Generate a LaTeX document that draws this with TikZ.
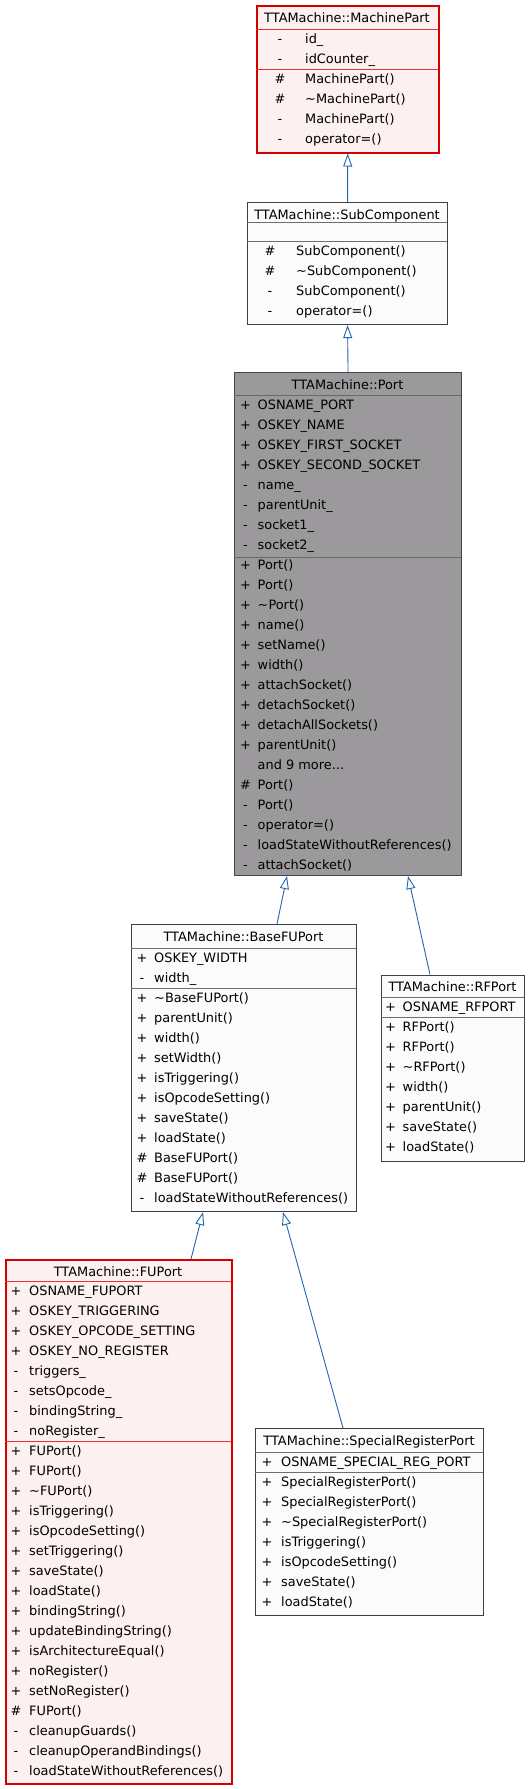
\documentclass[tikz,border=0pt]{standalone}
\usepackage{fontspec}
\setmainfont{DejaVu Sans}
\usepackage{xcolor}
\usetikzlibrary{arrows.meta}

\definecolor{partfill}{RGB}{252,240,240}
\definecolor{partline}{RGB}{210,0,0}
\definecolor{partsep}{RGB}{235,50,50}
\definecolor{plainfill}{RGB}{250,251,250}
\definecolor{plainline}{RGB}{64,64,64}
\definecolor{plainsep}{RGB}{110,110,110}
\definecolor{portfill}{RGB}{155,153,156}
\definecolor{portline}{RGB}{70,70,70}
\definecolor{portsep}{RGB}{105,105,105}
\definecolor{edgeblue}{RGB}{35,100,172}
\newcommand{\moredots}{...}

\begin{document}
\begin{tikzpicture}[x=1pt,y=-1pt,
  plaincls/.style={draw=plainline,fill=plainfill,line width=1.1pt,anchor=north west,inner sep=0pt},
  partcls/.style={draw=partline,fill=partfill,line width=1.5pt,anchor=north west,inner sep=0pt},
  portcls/.style={draw=portline,fill=portfill,line width=1.1pt,anchor=north west,inner sep=0pt},
  txt/.style={font=\fontsize{12.9}{15}\selectfont,inner sep=0pt},
  title/.style={txt,anchor=base},
  vis/.style={txt,anchor=base},
  member/.style={txt,anchor=base west},
  inherit/.style={edgeblue,line width=0.9pt,-{Triangle[length=13pt,width=9pt,fill=white]}}]
  \useasboundingbox (0,0) rectangle (530,1789);
  % MachinePart
  \node[partcls,minimum width=182pt,minimum height=147pt] (machinepart) at (256,5) {};
  \draw[partsep] (256,29) -- (438,29);
  \draw[partsep] (256,69) -- (438,69);
  \node[title] (mp-title) at (347,22.6) {TTAMachine::MachinePart};
  \foreach \vis/\mem [count=\i from 0] in {-/id\_, -/idCounter\_, \#/MachinePart(), \#/\textasciitilde MachinePart(), -/MachinePart(), -/operator=()} {
    \node[vis] (mp-v\i) at (280,43.6+20*\i) {\vis};
    \node[member] (mp-m\i) at (305,43.6+20*\i) {\mem};
  }
  % SubComponent
  \node[plaincls,minimum width=200pt,minimum height=122pt] (subcomponent) at (247,202) {};
  \draw[plainsep] (247,222) -- (447,222);
  \draw[plainsep] (247,241) -- (447,241);
  \node[title] (sc-title) at (347,219.6) {TTAMachine::SubComponent};
  \foreach \vis/\mem [count=\i from 0] in {\#/SubComponent(), \#/\textasciitilde SubComponent(), -/SubComponent(), -/operator=()} {
    \node[vis] (sc-v\i) at (270,255.6+20*\i) {\vis};
    \node[member] (sc-m\i) at (296,255.6+20*\i) {\mem};
  }
  % Port
  \node[portcls,minimum width=227pt,minimum height=503pt] (port) at (234,372) {};
  \draw[portsep] (234,395) -- (461,395);
  \draw[portsep] (234,557) -- (461,557);
  \node[title] (pt-title) at (347.5,389.3) {TTAMachine::Port};
  \foreach \vis/\mem [count=\i from 0] in {+/OSNAME\_PORT, +/OSKEY\_NAME, +/OSKEY\_FIRST\_SOCKET, +/OSKEY\_SECOND\_SOCKET, -/name\_, -/parentUnit\_, -/socket1\_, -/socket2\_,
      +/Port(), +/Port(), +/\textasciitilde Port(), +/name(), +/setName(), +/width(), +/attachSocket(), +/detachSocket(), +/detachAllSockets(), +/parentUnit(), {}/and 9 more\moredots, \#/Port(), -/Port(), -/operator=(), -/loadStateWithoutReferences(), -/attachSocket()} {
    \node[vis] (pt-v\i) at (245.5,409.3+20*\i) {\vis};
    \node[member] (pt-m\i) at (257.5,409.3+20*\i) {\mem};
  }
  % BaseFUPort
  \node[plaincls,minimum width=225pt,minimum height=287pt] (basefuport) at (131,924) {};
  \draw[plainsep] (131,948) -- (356,948);
  \draw[plainsep] (131,988) -- (356,988);
  \node[title] (bf-title) at (243.5,941.6) {TTAMachine::BaseFUPort};
  \foreach \vis/\mem [count=\i from 0] in {+/OSKEY\_WIDTH, -/width\_, +/\textasciitilde BaseFUPort(), +/parentUnit(), +/width(), +/setWidth(), +/isTriggering(), +/isOpcodeSetting(), +/saveState(), +/loadState(), \#/BaseFUPort(), \#/BaseFUPort(), -/loadStateWithoutReferences()} {
    \node[vis] (bf-v\i) at (142,962.6+20*\i) {\vis};
    \node[member] (bf-m\i) at (154,962.6+20*\i) {\mem};
  }
  % RFPort
  \node[plaincls,minimum width=143pt,minimum height=186.5pt] (rfport) at (381,974.5) {};
  \draw[plainsep] (381,997) -- (524,997);
  \draw[plainsep] (381,1017) -- (524,1017);
  \node[title] (rf-title) at (452.5,991.7) {TTAMachine::RFPort};
  \foreach \vis/\mem [count=\i from 0] in {+/OSNAME\_RFPORT, +/RFPort(), +/RFPort(), +/\textasciitilde RFPort(), +/width(), +/parentUnit(), +/saveState(), +/loadState()} {
    \node[vis] (rf-v\i) at (390.5,1011.7+20*\i) {\vis};
    \node[member] (rf-m\i) at (402.5,1011.7+20*\i) {\mem};
  }
  % FUPort
  \node[partcls,minimum width=226pt,minimum height=524pt] (fuport) at (5,1259) {};
  \draw[partsep] (5,1281) -- (231,1281);
  \draw[partsep] (5,1441) -- (231,1441);
  \node[title] (fu-title) at (118,1276.6) {TTAMachine::FUPort};
  \foreach \vis/\mem [count=\i from 0] in {+/OSNAME\_FUPORT, +/OSKEY\_TRIGGERING, +/OSKEY\_OPCODE\_SETTING, +/OSKEY\_NO\_REGISTER, -/triggers\_, -/setsOpcode\_, -/bindingString\_, -/noRegister\_,
      +/FUPort(), +/FUPort(), +/\textasciitilde FUPort(), +/isTriggering(), +/isOpcodeSetting(), +/setTriggering(), +/saveState(), +/loadState(), +/bindingString(), +/updateBindingString(), +/isArchitectureEqual(), +/noRegister(), +/setNoRegister(), \#/FUPort(), -/cleanupGuards(), -/cleanupOperandBindings(), -/loadStateWithoutReferences()} {
    \node[vis] (fu-v\i) at (16,1295.6+20*\i) {\vis};
    \node[member] (fu-m\i) at (29,1295.6+20*\i) {\mem};
  }
  % SpecialRegisterPort
  \node[plaincls,minimum width=228pt,minimum height=187pt] (srport) at (255,1428) {};
  \draw[plainsep] (255,1452) -- (483,1452);
  \draw[plainsep] (255,1472) -- (483,1472);
  \node[title] (sr-title) at (369,1445.6) {TTAMachine::SpecialRegisterPort};
  \foreach \vis/\mem [count=\i from 0] in {+/OSNAME\_SPECIAL\_REG\_PORT, +/SpecialRegisterPort(), +/SpecialRegisterPort(), +/\textasciitilde SpecialRegisterPort(), +/isTriggering(), +/isOpcodeSetting(), +/saveState(), +/loadState()} {
    \node[vis] (sr-v\i) at (267,1466.6+20*\i) {\vis};
    \node[member] (sr-m\i) at (281,1466.6+20*\i) {\mem};
  }
  % inheritance
  \draw[inherit] (subcomponent.north) -- (machinepart.south);
  \draw[inherit] (port.north) -- (subcomponent.south);
  \draw[inherit] ([xshift=146pt]basefuport.north west) -- ([xshift=53pt]port.south west);
  \draw[inherit] ([xshift=49pt]rfport.north west) -- ([xshift=174pt]port.south west);
  \draw[inherit] ([xshift=186pt]fuport.north west) -- ([xshift=72pt]basefuport.south west);
  \draw[inherit] ([xshift=88pt]srport.north west) -- ([xshift=152pt]basefuport.south west);
\end{tikzpicture}
\end{document}
